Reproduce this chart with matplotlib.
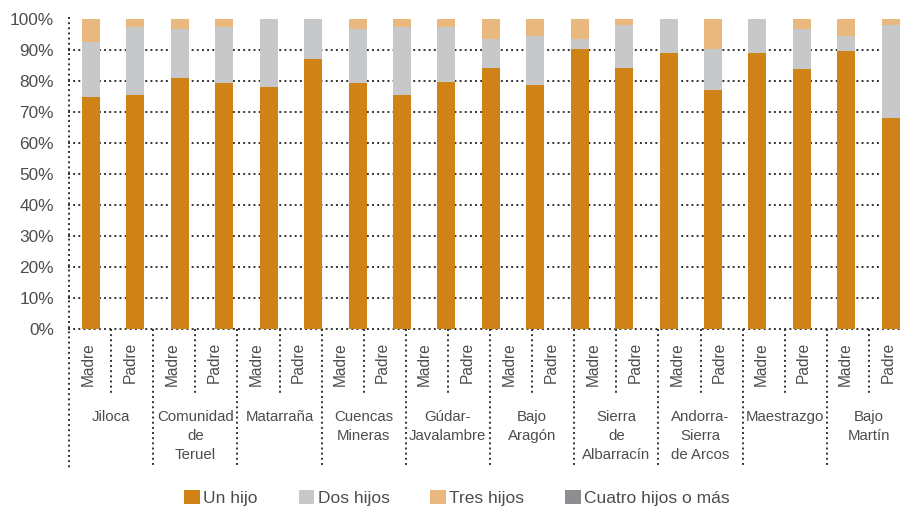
import matplotlib
matplotlib.use("Agg")
import matplotlib.pyplot as plt
from matplotlib.patches import Patch
import numpy as np

plt.rcParams['font.family'] = ['Liberation Sans', 'DejaVu Sans']

# ---- data (percent) ----
comarcas = ["Jiloca", "Comunidad\nde\nTeruel", "Matarraña", "Cuencas\nMineras",
            "Gúdar-\nJavalambre", "Bajo\nAragón", "Sierra\nde\nAlbarracín",
            "Andorra-\nSierra\nde Arcos", "Maestrazgo", "Bajo\nMartín"]
progenitores = ["Madre", "Padre"]

un_hijo   = [75.0, 75.5, 81.0, 79.4, 78.0, 87.1, 79.4, 75.5, 79.7, 84.2,
             78.7, 90.3, 84.2, 89.0, 77.1, 89.0, 83.9, 89.7, 68.0]
dos_hijos = [17.7, 21.9, 15.8, 18.0, 22.0, 12.9, 17.4, 21.9, 17.7, 9.2,
             15.8, 3.1, 13.9, 11.0, 13.2, 11.0, 12.9, 4.8, 30.1]
tres_hijos = [7.3, 2.6, 3.2, 2.6, 0.0, 0.0, 3.2, 2.6, 2.6, 6.6,
              5.5, 6.6, 1.9, 0.0, 9.7, 0.0, 3.2, 5.5, 1.9]
cuatro_hijos = [0.0] * 19

series_names = ["Un hijo", "Dos hijos", "Tres hijos", "Cuatro hijos o más"]
colors = ["#CF8317", "#C7C8CA", "#E8B87E", "#8E8E92"]
yticks = list(range(0, 101, 10))

TXT = "#4d4d4d"
GRID = "#333333"

W, H = 901, 507
fig = plt.figure(figsize=(W / 100, H / 100), dpi=100)

# main bar axes
ax = fig.add_axes([68 / W, 1 - 329 / H, 833 / W, 310 / H])
x = np.arange(len(un_hijo))
bottom = np.zeros(len(x))
for vals, col in zip([un_hijo, dos_hijos, tres_hijos, cuatro_hijos], colors):
    v = np.array(vals)
    ax.bar(x, v, bottom=bottom, width=0.405, color=col, zorder=2, linewidth=0)
    bottom += v
ax.set_xlim(-0.518, 18.23)
ax.set_ylim(0, 100)
for t in yticks[:-1]:
    ax.axhline(t, color=GRID, lw=1.4, ls=':', zorder=1, clip_on=False)
ax.set_yticks(yticks)
ax.set_yticklabels([f"{t}%" for t in yticks])
ax.tick_params(axis='y', length=0, pad=10, labelsize=12.4, labelcolor=TXT)
ax.set_xticks([])
for s in ax.spines.values():
    s.set_visible(False)

# category label grid
lab = fig.add_axes([69 / W, 0, 842 / W, 1])
lab.set_xlim(0, 20)
lab.set_ylim(H, 0)
lab.axis('off')
lab.patch.set_alpha(0)
for k in range(0, 21):
    if k == 0:
        lab.vlines(k, 17, 468, color=GRID, lw=1.4, ls=':', clip_on=False)
    elif k % 2 == 0:
        lab.vlines(k, 329, 468, color=GRID, lw=1.4, ls=':', clip_on=False)
    else:
        lab.vlines(k, 329, 395, color=GRID, lw=1.4, ls=':', clip_on=False)
for i, c in enumerate(comarcas):
    for j, p in enumerate(progenitores):
        lab.text(2 * i + j + 0.45, 342, p, rotation=90, ha='center', va='top',
                 fontsize=11.2, color=TXT, clip_on=False)
    lab.text(2 * i + 1, 410, c, ha='center', va='top', fontsize=10.8,
             color=TXT, linespacing=1.45, clip_on=False)

handles = [Patch(facecolor=c, edgecolor='none', label=n) for c, n in zip(colors, series_names)]
fig.legend(handles=handles, loc='center', bbox_to_anchor=(457 / W, 1 - 498 / H),
           ncol=4, frameon=False, handlelength=0.9, handleheight=0.9,
           handletextpad=0.2, columnspacing=2.35, fontsize=12.5, labelcolor=TXT)

fig.savefig("out.png", dpi=100)
